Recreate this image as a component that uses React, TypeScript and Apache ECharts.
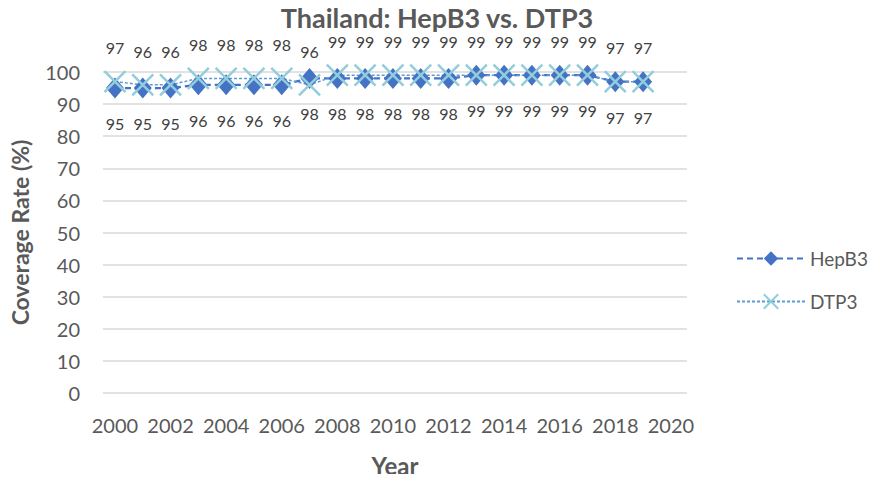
import React, { useEffect, useRef } from "react";
import * as echarts from "echarts";

const years = [2000, 2001, 2002, 2003, 2004, 2005, 2006, 2007, 2008, 2009, 2010, 2011, 2012, 2013, 2014, 2015, 2016, 2017, 2018, 2019];
const hepB3 = [95, 95, 95, 96, 96, 96, 96, 98, 98, 98, 98, 98, 98, 99, 99, 99, 99, 99, 97, 97];
const dtp3 = [97, 96, 96, 98, 98, 98, 98, 96, 99, 99, 99, 99, 99, 99, 99, 99, 99, 99, 97, 97];
const xTicks = [2000, 2002, 2004, 2006, 2008, 2010, 2012, 2014, 2016, 2018, 2020];

const FONT = "Lato, 'Open Sans', sans-serif";
const GREY = "#595959";

export default function App() {
  const ref = useRef<HTMLDivElement>(null);
  useEffect(() => {
    if (!ref.current) return;
    const chart = echarts.init(ref.current, null, { renderer: "svg" });
    chart.setOption({
      animation: false,
      title: {
        text: "Thailand: HepB3 vs. DTP3",
        left: 437,
        top: 1,
        padding: 0,
        textAlign: "center",
        textStyle: { fontFamily: FONT, fontSize: 27, fontWeight: "bold", color: GREY, lineHeight: 32 },
      },
      grid: { left: 101, right: 879 - 687, top: 72, bottom: 482 - 400 },
      legend: {
        orient: "vertical",
        left: 736,
        top: 249,
        padding: 0,
        itemWidth: 68,
        itemHeight: 18,
        itemGap: 24,
        textStyle: { fontFamily: FONT, fontSize: 19, color: GREY, lineHeight: 18 },
        data: ["HepB3", "DTP3"],
      },
      xAxis: {
        type: "value",
        min: 1999.57,
        max: 2020.58,
        name: "Year",
        nameLocation: "middle",
        nameGap: 60,
        nameTextStyle: { fontFamily: FONT, fontSize: 24, fontWeight: "bold", color: GREY },
        axisLine: { show: false },
        axisTick: { show: false },
        splitLine: { show: false },
        axisLabel: {
          customValues: xTicks,
          formatter: (v: number) => String(Math.round(v)),
          fontFamily: FONT,
          fontSize: 20,
          color: GREY,
          margin: 22,
        },
      },
      yAxis: {
        type: "value",
        min: 0,
        max: 100,
        interval: 10,
        name: "Coverage Rate (%)",
        nameLocation: "middle",
        nameGap: 72,
        nameTextStyle: { fontFamily: FONT, fontSize: 23, fontWeight: "bold", color: GREY },
        axisLine: { show: false },
        axisTick: { show: false },
        splitLine: { lineStyle: { color: "#d9d9d9", width: 1.5 } },
        axisLabel: { fontFamily: FONT, fontSize: 20, color: GREY, margin: 23 },
      },
      series: [
        {
          name: "HepB3",
          type: "line",
          data: years.map((y, i) => [y, hepB3[i]]),
          symbol: "diamond",
          symbolSize: [18, 21],
          itemStyle: { color: "#4472C4" },
          lineStyle: { color: "#4472C4", width: 2.25, type: [6, 4] },
          label: {
            show: true,
            position: "bottom",
            distance: 17,
            formatter: (p: any) => String(p.value[1]),
            fontFamily: FONT,
            fontSize: 16,
            color: "#404040",
          },
        },
        {
          name: "DTP3",
          type: "line",
          data: years.map((y, i) => [y, dtp3[i]]),
          symbol: "path://M0,0L10,10M10,0L0,10",
          symbolSize: 21,
          itemStyle: { color: "#92CDDC", borderColor: "#92CDDC", borderWidth: 2.5 },
          lineStyle: { color: "#5B9BD5", width: 1.5, type: [3, 2] },
          label: {
            show: true,
            position: "top",
            distance: 14,
            formatter: (p: any) => String(p.value[1]),
            fontFamily: FONT,
            fontSize: 16,
            color: "#404040",
          },
        },
      ],
    });
    return () => chart.dispose();
  }, []);
  return <div ref={ref} style={{ width: 879, height: 482, margin: -8 }} />;
}
